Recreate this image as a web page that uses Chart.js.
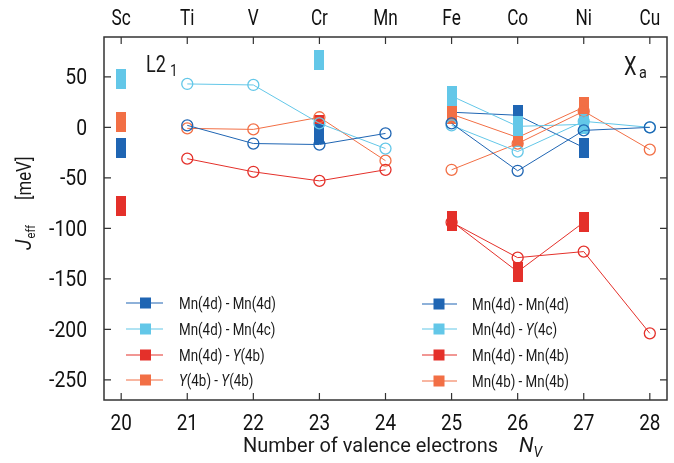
<!DOCTYPE html>
<html>
<head>
<meta charset="utf-8">
<script src="https://cdn.jsdelivr.net/npm/chart.js@4/dist/chart.umd.min.js"></script>
<style>
  html, body { margin: 0; padding: 0; background: #fff; }
  #wrap { width: 674px; height: 463px; }
</style>
</head>
<body>
<div id="wrap"><canvas id="chart"></canvas></div>
<script>
// x axis: number of valence electrons and the element on top
const nv = [20, 21, 22, 23, 24, 25, 26, 27, 28];
const elements = ['Sc', 'Ti', 'V', 'Cr', 'Mn', 'Fe', 'Co', 'Ni', 'Cu'];
const yTicks = [50, 0, -50, -100, -150, -200, -250];

// L2_1, open circles
const l21X = [21, 22, 23, 24];
const l21MnMn = [2, -16, -17, -6];
const l21MnMnC = [43, 42, 4, -21];
const l21MnY = [-31, -44, -53, -42];
const l21YY = [-1, -2, 10, -33];

// L2_1, filled bars
const l21FillX = [20, 23];
const l21FillMnMn = [-20, -7];
const l21FillMnMnC = [48, 67];
const l21FillMnY = [-78, 2];
const l21FillYY = [5, null];

// X_a, open circles
const xaX = [25, 26, 27, 28];
const xaMnMn = [4, -43, -3, 0];
const xaMnY = [2, -24, 6, 0];
const xaMn4b = [-94, -129, -123, -204];
const xa4b4b = [-42, -16, 16, -22];

// X_a, filled bars
const xaFillX = [25, 26, 27];
const xaFillMnMn = [15, 12, -20];
const xaFillMnY = [31, 1, 3];
const xaFillMn4b = [-93, -143, -94];
const xaFill4b4b = [13, -10, 20];

const darkBlue = '#1f65b3';
const lightBlue = '#63c7e8';
const red = '#e4302a';
const orange = '#f26f45';

const font = 'Roboto, "DejaVu Sans Condensed", sans-serif';

function rectMarker(color) {
    const c = document.createElement('canvas');
    c.width = 10;
    c.height = 20;
    const g = c.getContext('2d');
    g.fillStyle = color;
    g.fillRect(0, 0, 10, 20);
    return c;
}

function pts(xs, ys) {
    return xs.map((x, i) => ({ x: x, y: ys[i] })).filter(p => p.y !== null);
}

function openSet(xs, ys, color) {
    return {
        data: pts(xs, ys),
        showLine: true,
        borderColor: color,
        borderWidth: 1,
        pointStyle: 'circle',
        pointRadius: 5.5,
        pointBorderWidth: 1.3,
        pointBorderColor: color,
        pointBackgroundColor: 'rgba(255,255,255,0)',
        order: 0
    };
}

function fillSet(xs, ys, color, order, line) {
    return {
        data: pts(xs, ys),
        showLine: line,
        borderColor: color,
        borderWidth: 1,
        pointStyle: rectMarker(color),
        pointRadius: 5,
        order: order
    };
}

const datasets = [
    openSet(l21X, l21MnMn, darkBlue),
    openSet(l21X, l21MnMnC, lightBlue),
    openSet(l21X, l21MnY, red),
    openSet(l21X, l21YY, orange),
    openSet(xaX, xaMnMn, darkBlue),
    openSet(xaX, xaMnY, lightBlue),
    openSet(xaX, xaMn4b, red),
    openSet(xaX, xa4b4b, orange),
    fillSet(l21FillX, l21FillMnMnC, lightBlue, 1, false),
    fillSet(l21FillX, l21FillYY, orange, 2, false),
    fillSet(l21FillX, l21FillMnMn, darkBlue, 3, false),
    fillSet(l21FillX, l21FillMnY, red, 4, false),
    fillSet(xaFillX, xaFillMnY, lightBlue, 1, true),
    fillSet(xaFillX, xaFill4b4b, orange, 2, true),
    fillSet(xaFillX, xaFillMnMn, darkBlue, 3, true),
    fillSet(xaFillX, xaFillMn4b, red, 4, true)
];

const legendLeft = [
    [darkBlue, [['Mn(4d) - Mn(4d)', false]]],
    [lightBlue, [['Mn(4d) - Mn(4c)', false]]],
    [red, [['Mn(4d) - ', false], ['Y', true], ['(4b)', false]]],
    [orange, [['Y', true], ['(4b) - ', false], ['Y', true], ['(4b)', false]]]
];
const legendRight = [
    [darkBlue, [['Mn(4d) - Mn(4d)', false]]],
    [lightBlue, [['Mn(4d) - ', false], ['Y', true], ['(4c)', false]]],
    [red, [['Mn(4d) - Mn(4b)', false]]],
    [orange, [['Mn(4b) - Mn(4b)', false]]]
];

// text squeezed horizontally by sx, to get the narrow look of the original
function txt(ctx, s, x, y, size, sx, align, italic) {
    ctx.save();
    ctx.font = (italic ? 'italic ' : '') + size + 'px ' + font;
    ctx.textAlign = align || 'left';
    ctx.translate(x, y);
    ctx.scale(sx, 1);
    ctx.fillText(s, 0, 0);
    const w = ctx.measureText(s).width * sx;
    ctx.restore();
    return w;
}

function drawParts(ctx, parts, x, y, size, sx) {
    parts.forEach(p => {
        x += txt(ctx, p[0], x, y, size, sx, 'left', p[1]);
    });
}

function drawLegend(ctx, items, x0, x1, xm, xt, rows) {
    items.forEach((it, i) => {
        const y = rows[i];
        ctx.strokeStyle = it[0];
        ctx.lineWidth = 1.2;
        ctx.beginPath();
        ctx.moveTo(x0, y);
        ctx.lineTo(x1, y);
        ctx.stroke();
        ctx.fillStyle = it[0];
        ctx.fillRect(xm - 5.5, y - 5.5, 11, 11);
        ctx.fillStyle = '#1a1a1a';
        drawParts(ctx, it[1], xt, y + 6, 16.5, 0.81);
    });
}

const decor = {
    id: 'decor',
    afterDraw(chart) {
        const ctx = chart.ctx;
        const a = chart.chartArea;
        const sx = chart.scales.x;
        const sy = chart.scales.y;
        ctx.save();

        // frame and inward ticks
        ctx.strokeStyle = '#333';
        ctx.lineWidth = 1.5;
        ctx.strokeRect(a.left, a.top, a.right - a.left, a.bottom - a.top);
        ctx.lineWidth = 1.2;
        ctx.beginPath();
        nv.forEach(v => {
            const px = sx.getPixelForValue(v);
            ctx.moveTo(px, a.bottom); ctx.lineTo(px, a.bottom - 7);
            ctx.moveTo(px, a.top); ctx.lineTo(px, a.top + 7);
        });
        yTicks.forEach(v => {
            const py = sy.getPixelForValue(v);
            ctx.moveTo(a.left, py); ctx.lineTo(a.left + 7, py);
            ctx.moveTo(a.right, py); ctx.lineTo(a.right - 7, py);
        });
        ctx.stroke();

        // tick labels
        ctx.fillStyle = '#111';
        ctx.textBaseline = 'alphabetic';
        nv.forEach((v, i) => {
            const px = sx.getPixelForValue(v);
            txt(ctx, String(v), px, 429.5, 21.5, 0.88, 'center');
            txt(ctx, elements[i], px, 25, 21.5, 0.8, 'center');
        });
        yTicks.forEach(v => {
            const py = sy.getPixelForValue(v);
            txt(ctx, String(v), 87, py + 7.5, 21.5, 0.9, 'right');
        });

        // legends
        drawLegend(ctx, legendLeft, 126, 163, 145.5, 179, [303, 329, 355, 380]);
        drawLegend(ctx, legendRight, 422, 457, 439, 472, [304, 329, 355, 381]);

        // structure labels
        ctx.fillStyle = '#1a1a1a';
        txt(ctx, 'L2', 146, 72, 24, 0.75);
        txt(ctx, '1', 170, 76, 17, 0.8);
        txt(ctx, 'X', 624, 75, 25, 0.8);
        txt(ctx, 'a', 639, 78, 17, 0.85);

        // x title
        txt(ctx, 'Number of valence electrons', 243, 452, 20, 1);
        const nw = txt(ctx, 'N', 519, 452, 21, 1, 'left', true);
        txt(ctx, 'V', 519 + nw, 457, 14, 1, 'left', true);

        // y title
        ctx.translate(31, 250);
        ctx.rotate(-Math.PI / 2);
        let y = 0;
        y += txt(ctx, 'J', y, 0, 22, 0.9, 'left', true) + 1;
        y += txt(ctx, 'eff', y, 4, 13, 0.85);
        txt(ctx, '[meV]', 50, 0, 21, 0.8);
        ctx.restore();
    }
};

new Chart(document.getElementById('chart'), {
    type: 'scatter',
    data: { datasets: datasets },
    options: {
        responsive: true,
        maintainAspectRatio: false,
        animation: false,
        layout: { padding: { right: 7 } },
        plugins: { legend: { display: false }, tooltip: { enabled: false } },
        scales: {
            x: {
                type: 'linear',
                position: 'bottom',
                min: 19.74,
                max: 28.26,
                afterBuildTicks: s => { s.ticks = nv.map(v => ({ value: v })); },
                afterFit: s => { s.height = 63; },
                grid: { display: false, drawTicks: false },
                border: { display: false },
                ticks: { display: false }
            },
            x2: {
                type: 'linear',
                position: 'top',
                min: 19.74,
                max: 28.26,
                afterBuildTicks: s => { s.ticks = nv.map(v => ({ value: v })); },
                afterFit: s => { s.height = 37; },
                grid: { display: false, drawTicks: false },
                border: { display: false },
                ticks: { display: false }
            },
            y: {
                type: 'linear',
                min: -270,
                max: 89.5,
                afterBuildTicks: s => { s.ticks = yTicks.map(v => ({ value: v })); },
                afterFit: s => { s.width = 104; },
                grid: { display: false, drawTicks: false },
                border: { display: false },
                ticks: { display: false }
            }
        }
    },
    plugins: [decor]
});
</script>
</body>
</html>
